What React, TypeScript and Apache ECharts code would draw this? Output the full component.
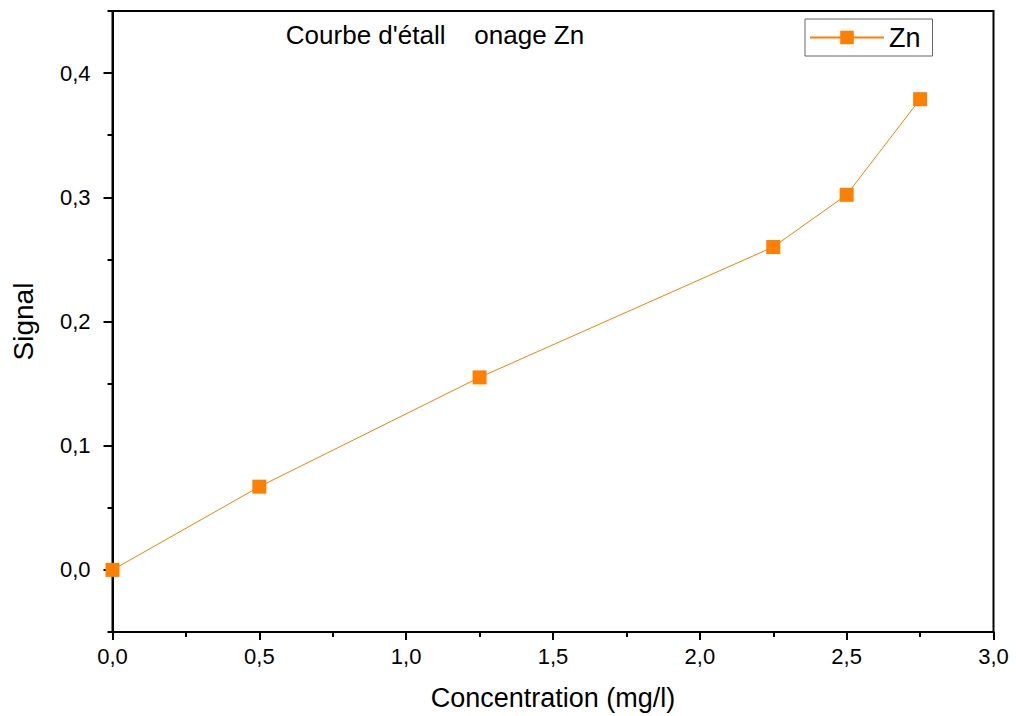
import React, { useEffect, useRef } from "react";
import * as echarts from "echarts";

const concentration = [0, 0.5, 1.25, 2.25, 2.5, 2.75];
const signal = [0, 0.067, 0.155, 0.26, 0.302, 0.379];
const yMajorTicks = [0, 0.1, 0.2, 0.3, 0.4];
const yMinorTicks = [-0.05, 0.05, 0.15, 0.25, 0.35, 0.45];
const titleText = "Courbe d'étall    onage Zn";
const seriesName = "Zn";
const xName = "Concentration (mg/l)";
const yName = "Signal";

const fmt = (v: number) => v.toFixed(1).replace(".", ",");

export default function App() {
  const ref = useRef<HTMLDivElement>(null);
  useEffect(() => {
    const chart = echarts.init(ref.current!, null, { renderer: "svg" });
    const font = "Liberation Sans, Arial, sans-serif";
    chart.setOption({
      animation: false,
      backgroundColor: "#ffffff",
      textStyle: { fontFamily: font },
      title: {
        text: titleText,
        left: 430,
        top: 17,
        textAlign: "center",
        textStyle: { fontFamily: font, fontSize: 26, fontWeight: "normal", color: "#000" },
      },
      legend: {
        data: [seriesName],
        left: 805,
        top: 19,
        padding: [5, 12, 5, 4],
        borderColor: "#666",
        borderWidth: 1,
        itemWidth: 74,
        itemHeight: 17,
        itemGap: 7,
        textStyle: { fontFamily: font, fontSize: 27, color: "#000" },
      },
      grid: {
        left: 112.5,
        right: 22.5,
        top: 11,
        bottom: 84,
        show: true,
        borderColor: "#000",
        borderWidth: 2,
        containLabel: false,
        outerBoundsMode: "none",
      },
      xAxis: {
        type: "value",
        min: 0,
        max: 3,
        interval: 0.5,
        name: xName,
        nameLocation: "middle",
        nameGap: 52,
        nameTextStyle: { fontFamily: font, fontSize: 27, color: "#000" },
        axisLine: { onZero: false, lineStyle: { color: "#000", width: 2 } },
        axisTick: { show: true, inside: false, length: 8, lineStyle: { color: "#000", width: 2 } },
        minorTick: { show: true, splitNumber: 2, length: 5, lineStyle: { color: "#000", width: 2 } },
        splitLine: { show: false },
        axisLabel: { formatter: fmt, fontFamily: font, fontSize: 22, color: "#000", margin: 13 },
      },
      yAxis: [
        {
          type: "value",
          min: -0.05,
          max: 0.45,
          name: yName,
          nameLocation: "middle",
          nameGap: 75,
          nameTextStyle: { fontFamily: font, fontSize: 28, color: "#000" },
          axisLine: { show: true, onZero: false, lineStyle: { color: "#000", width: 2 } },
          axisTick: { show: true, length: 9, customValues: yMajorTicks, lineStyle: { color: "#000", width: 2 } },
          splitLine: { show: false },
          axisLabel: {
            customValues: yMajorTicks,
            formatter: fmt,
            fontFamily: font,
            fontSize: 22,
            color: "#000",
            margin: 22,
          },
        },
        {
          type: "value",
          min: -0.05,
          max: 0.45,
          position: "left",
          axisLine: { show: false, onZero: false },
          axisTick: { show: true, length: 5, customValues: yMinorTicks, lineStyle: { color: "#000", width: 2 } },
          splitLine: { show: false },
          axisLabel: { show: false },
        },
      ],
      series: [
        {
          name: seriesName,
          type: "line",
          yAxisIndex: 0,
          data: concentration.map((c, i) => [c, signal[i]]),
          symbol: "rect",
          symbolSize: 14,
          itemStyle: { color: "#FF8000" },
          lineStyle: { color: "#FF8000", width: 1 },
        },
      ],
    });
    return () => chart.dispose();
  }, []);
  return (
    <div
      ref={ref}
      style={{ position: "fixed", left: 0, top: 0, width: 1016, height: 716 }}
    />
  );
}
